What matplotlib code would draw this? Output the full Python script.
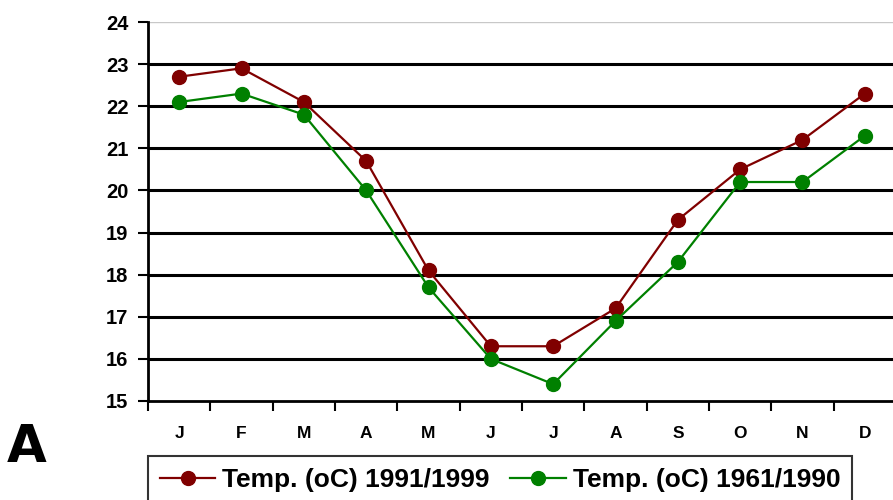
import matplotlib.pyplot as plt
import numpy as np

plt.rcParams['font.family'] = ['Liberation Sans', 'DejaVu Sans']

months = ['J', 'F', 'M', 'A', 'M', 'J', 'J', 'A', 'S', 'O', 'N', 'D']
temp_9199 = [22.7, 22.9, 22.1, 20.7, 18.1, 16.3, 16.3, 17.2, 19.3, 20.5, 21.2, 22.3]
temp_6190 = [22.1, 22.3, 21.8, 20.0, 17.7, 16.0, 15.4, 16.9, 18.3, 20.2, 20.2, 21.3]
yticks = list(range(15, 25))

fig = plt.figure(figsize=(8.93, 5), dpi=100)
# axes placed in pixel terms: left 148, right ~896, top 22, bottom 401
ax = fig.add_axes([148/893, 1 - 401/500, (896 - 148)/893, (401 - 22)/500])

x = np.arange(len(months))
ax.plot(x, temp_9199, color='#800000', lw=1.6, marker='o', ms=10,
        label='Temp. (oC) 1991/1999', zorder=3)
ax.plot(x, temp_6190, color='#008000', lw=1.6, marker='o', ms=10,
        label='Temp. (oC) 1961/1990', zorder=3)

ax.set_xlim(-0.5, 11.5)
ax.set_ylim(15, 24)
ax.set_yticks(yticks)
ax.set_yticklabels([str(v) for v in yticks], fontsize=14.5, fontweight='bold')

# category labels centred, ticks on boundaries
ax.set_xticks(np.arange(-0.5, 12, 1))
ax.set_xticklabels([])
ax.set_xticks(x, minor=True)
ax.set_xticklabels(months, minor=True, fontsize=12.5, fontweight='bold')
ax.tick_params(axis='x', which='minor', length=0, pad=18)
ax.tick_params(axis='x', which='major', length=7, width=1.5, direction='out')
ax.tick_params(axis='y', length=7, width=1.5, direction='out', pad=7)

for v in yticks[1:-1]:
    ax.axhline(v, color='black', lw=2.2, zorder=1)
ax.axhline(24, color='#c8c8c8', lw=1, zorder=1)

for s in ['top', 'right']:
    ax.spines[s].set_visible(False)
ax.spines['left'].set_linewidth(2)
ax.spines['bottom'].set_linewidth(2)

leg = fig.legend(loc='upper left', bbox_to_anchor=(148/893, 1 - 456/500),
                 ncol=2, frameon=True, fancybox=False, edgecolor='black',
                 prop={'weight': 'bold', 'size': 19}, handlelength=2.1,
                 handletextpad=0.25, columnspacing=0.8, borderpad=0.45,
                 borderaxespad=0)
leg.get_frame().set_linewidth(1.5)

fig.text(7/893, 1 - 462/500, 'A', fontsize=37, fontweight='bold',
         family='DejaVu Sans', ha='left', va='baseline')

fig.savefig('out.png', dpi=100)
